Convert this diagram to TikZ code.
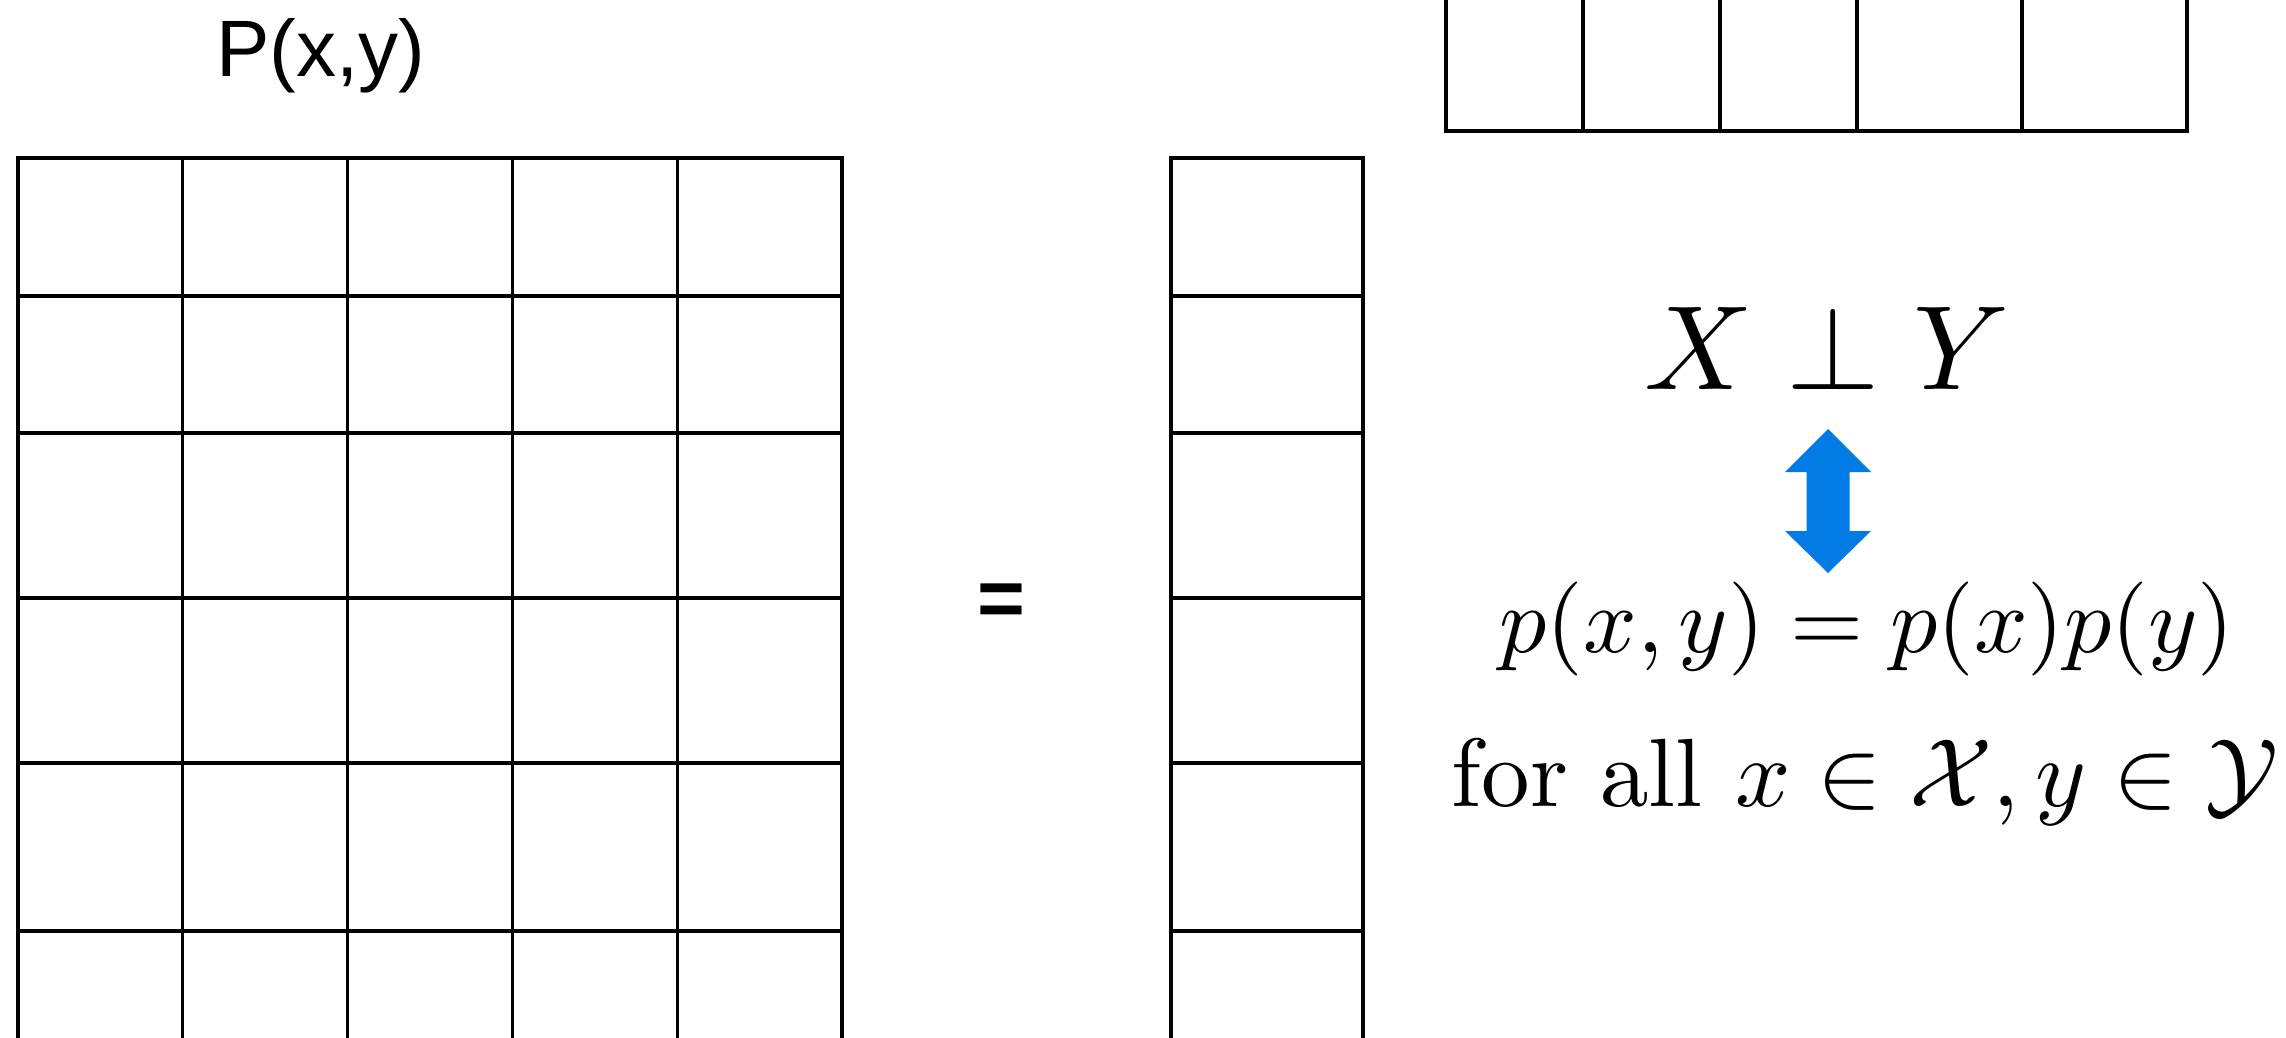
\RequirePackage{fix-cm}
\documentclass[tikz,border=0pt]{standalone}
\usepackage{graphicx}
\usepackage{fontspec}
\newfontfamily\arialfont{Liberation Sans}
\definecolor{arrowblue}{RGB}{2,123,229}
\begin{document}
\begin{tikzpicture}[x=1pt,y=-1pt,
  gridline/.style={line width=3.2pt, black, line cap=rect},
  mathlabel/.style={anchor=base, inner sep=0pt}]
\useasboundingbox (0,0) rectangle (2286,1038);
\clip (0,0) rectangle (2286,1038);
% big joint matrix P(x,y)
\foreach \x in {18,182.8,347.6,512.4,677.2,842}
  \draw[gridline] (\x,158) -- (\x,1060);
\foreach \y in {158,296,433,598,763,931}
  \draw[gridline] (18,\y) -- (842,\y);
% column vector
\foreach \x in {1171,1363}
  \draw[gridline] (\x,158) -- (\x,1060);
\foreach \y in {158,296,433,598,763,931}
  \draw[gridline] (1171,\y) -- (1363,\y);
% row vector
\foreach \x in {1446,1583,1720,1857,2022,2187}
  \draw[gridline] (\x,-20) -- (\x,131);
\draw[gridline] (1446,131) -- (2187,131);
% labels
\node[mathlabel, font=\arialfont\fontsize{80}{96}\selectfont] (pxy) at (321,77) {P(x,y)};
\node[mathlabel, font=\arialfont\bfseries\fontsize{82}{98}\selectfont] (eq) at (1001,626) {=};
\node[mathlabel] (indep) at (1827,389) {\scalebox{12}{$X \perp Y$}};
\node[mathlabel] (fact) at (1867,652) {\scalebox{9.4}{$p(x,y) = p(x)p(y)$}};
\node[mathlabel] (forall) at (1865,806) {\scalebox{9.7}{for all $x \in \mathcal{X}, y \in \mathcal{Y}$}};
% blue double arrow
\fill[arrowblue] (1828,429) -- (1871,472) -- (1849.5,472) -- (1849.5,531) -- (1871,531)
  -- (1828,573) -- (1785,531) -- (1806.5,531) -- (1806.5,472) -- (1785,472) -- cycle;
\end{tikzpicture}
\end{document}
